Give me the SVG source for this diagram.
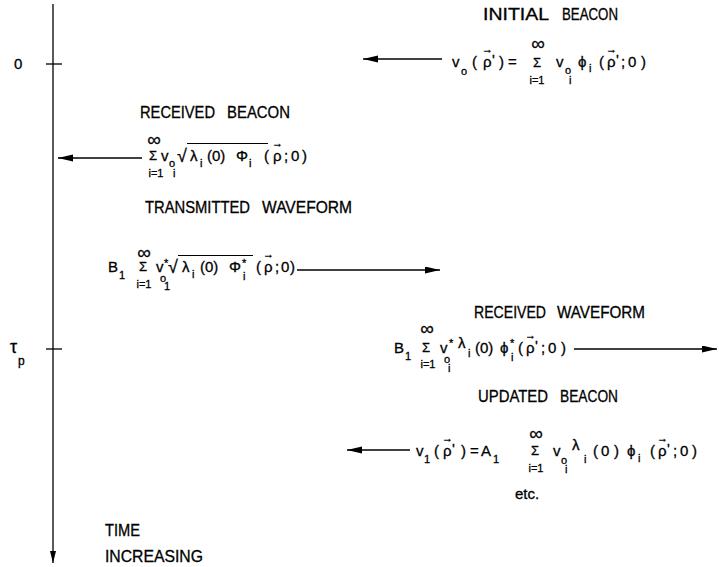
<svg xmlns="http://www.w3.org/2000/svg" width="719" height="567" viewBox="0 0 719 567">
<style>
text{font-family:"Liberation Sans","DejaVu Sans",sans-serif;fill:#000;stroke:#000;stroke-width:0.3}
.lab{font-size:16px}
.m{font-size:15px}
.s{font-size:11px}
.sg{font-size:13px;text-anchor:middle}
.inf{font-size:19px;text-anchor:middle}
.lim{font-size:11px;text-anchor:middle}
.vec{font-size:11px}
.ln{stroke:#000;stroke-width:1.3;fill:none}
.ov{stroke:#000;stroke-width:1.1;fill:none}
</style>
<defs>
<marker id="ah" markerUnits="userSpaceOnUse" markerWidth="16" markerHeight="8" refX="15" refY="3.5" orient="auto">
<path d="M0,0 L15,3.5 L0,7 Z" fill="#000"/>
</marker>
<marker id="ahv" markerUnits="userSpaceOnUse" markerWidth="13" markerHeight="8" refX="12" refY="3" orient="auto">
<path d="M0,0 L12,3 L0,6 Z" fill="#000"/>
</marker>
</defs>

<g id="axis">
<line class="ln" x1="53" y1="4" x2="53" y2="563" marker-end="url(#ahv)"/>
<line class="ln" x1="46" y1="64" x2="62" y2="64"/>
<line class="ln" x1="46" y1="349" x2="62" y2="349"/>
<text class="m" x="14" y="69">0</text>
<text style="font-size:18px" x="10" y="353">τ</text>
<text class="s" style="font-size:12px" x="18" y="365">p</text>
<text class="lab" x="105" y="536" textLength="35" lengthAdjust="spacingAndGlyphs">TIME</text>
<text class="lab" x="105" y="562" textLength="98" lengthAdjust="spacingAndGlyphs">INCREASING</text>
</g>

<g id="connectors">
<line class="ln" x1="442" y1="59" x2="363" y2="59" marker-end="url(#ah)"/>
<line class="ln" x1="142" y1="158" x2="58" y2="158" marker-end="url(#ah)"/>
<line class="ln" x1="297" y1="270" x2="440" y2="270" marker-end="url(#ah)"/>
<line class="ln" x1="574" y1="349" x2="717" y2="349" marker-end="url(#ah)"/>
<line class="ln" x1="410" y1="450" x2="347" y2="450" marker-end="url(#ah)"/>
</g>

<g id="initial-beacon">
<text class="lab" x="483" y="20" textLength="66" lengthAdjust="spacingAndGlyphs">INITIAL</text>
<text class="lab" x="562" y="20" textLength="56" lengthAdjust="spacingAndGlyphs">BEACON</text>
<text class="m" x="452" y="67">v</text>
<text class="s" x="461" y="75">o</text>
<text class="m" x="472" y="67">(</text>
<text class="m" x="483" y="67">ρ</text>
<text class="vec" x="482" y="53">→</text>
<text class="m" x="492" y="65">'</text>
<text class="m" x="499" y="67">)</text>
<text class="m" x="508" y="67">=</text>
<text class="inf" x="538" y="50">∞</text>
<text class="sg" x="537" y="67">Σ</text>
<text class="lim" x="537" y="84">i=1</text>
<text class="m" x="556" y="67">v</text>
<text class="s" x="565" y="74">o</text>
<text class="s" x="569" y="84">i</text>
<text class="m" x="578" y="67">ϕ</text>
<text class="s" x="589" y="72">i</text>
<text class="m" x="599" y="67">(</text>
<text class="m" x="607" y="67">ρ</text>
<text class="vec" x="606" y="53">→</text>
<text class="m" x="616" y="65">'</text>
<text class="m" x="621" y="67">;</text>
<text class="m" x="628" y="67">0</text>
<text class="m" x="641" y="67">)</text>
</g>

<g id="received-beacon">
<text class="lab" x="140" y="118" textLength="75" lengthAdjust="spacingAndGlyphs">RECEIVED</text>
<text class="lab" x="227" y="118" textLength="63" lengthAdjust="spacingAndGlyphs">BEACON</text>
<text class="inf" x="154" y="146">∞</text>
<text class="sg" x="153" y="160">Σ</text>
<text class="lim" x="156" y="177">i=1</text>
<text class="m" x="161" y="161">v</text>
<text class="s" x="169" y="167">o</text>
<text class="s" x="173" y="177">i</text>
<text class="m" style="font-size:18px" x="177" y="162">√</text>
<line class="ov" x1="187" y1="143.5" x2="268" y2="143.5"/>
<text class="m" x="190" y="161">λ</text>
<text class="s" x="200" y="167">i</text>
<text class="m" x="207" y="161">(0)</text>
<text class="m" x="236" y="161">Φ</text>
<text class="s" x="249" y="167">i</text>
<text class="m" x="264" y="161">(</text>
<text class="m" x="273" y="161">ρ</text>
<text class="vec" x="272" y="147">→</text>
<text class="m" x="284" y="161">;</text>
<text class="m" x="291" y="161">0</text>
<text class="m" x="302" y="161">)</text>
</g>

<g id="transmitted-waveform">
<text class="lab" x="145" y="213" textLength="105" lengthAdjust="spacingAndGlyphs">TRANSMITTED</text>
<text class="lab" x="262" y="213" textLength="90" lengthAdjust="spacingAndGlyphs">WAVEFORM</text>
<text class="m" x="108" y="272">B</text>
<text class="s" x="119" y="279">1</text>
<text class="inf" x="144" y="259">∞</text>
<text class="sg" x="143" y="271">Σ</text>
<text class="lim" x="144" y="288">i=1</text>
<text class="m" x="156" y="272">v</text>
<text class="s" x="164" y="267">*</text>
<text class="s" x="160" y="282">o</text>
<text class="s" x="164" y="290">1</text>
<text class="m" style="font-size:18px" x="168" y="273">√</text>
<line class="ov" x1="178" y1="255.5" x2="253" y2="255.5"/>
<text class="m" x="182" y="272">λ</text>
<text class="s" x="192" y="278">i</text>
<text class="m" x="200" y="272">(0)</text>
<text class="m" x="229" y="272">Φ</text>
<text class="s" x="242" y="267">*</text>
<text class="s" x="243" y="280">i</text>
<text class="m" x="256" y="272">(</text>
<text class="m" x="264" y="272">ρ</text>
<text class="vec" x="263" y="258">→</text>
<text class="m" x="275" y="272">;</text>
<text class="m" x="281" y="272">0</text>
<text class="m" x="290" y="272">)</text>
</g>

<g id="received-waveform">
<text class="lab" x="474" y="318" textLength="72" lengthAdjust="spacingAndGlyphs">RECEIVED</text>
<text class="lab" x="557" y="318" textLength="88" lengthAdjust="spacingAndGlyphs">WAVEFORM</text>
<text class="m" x="394" y="353">B</text>
<text class="s" x="405" y="360">1</text>
<text class="inf" x="427" y="335">∞</text>
<text class="sg" x="426" y="352">Σ</text>
<text class="lim" x="428" y="368">i=1</text>
<text class="m" x="440" y="353">v</text>
<text class="s" x="449" y="347">*</text>
<text class="s" x="444" y="363">o</text>
<text class="s" x="448" y="372">i</text>
<text class="m" x="458" y="348">λ</text>
<text class="s" x="468" y="357">i</text>
<text class="m" x="475" y="353">(0)</text>
<text class="m" x="500" y="353">ϕ</text>
<text class="s" x="510" y="347">*</text>
<text class="s" x="511" y="361">i</text>
<text class="m" x="518" y="353">(</text>
<text class="m" x="526" y="353">ρ</text>
<text class="vec" x="525" y="339">→</text>
<text class="m" x="535" y="351">'</text>
<text class="m" x="541" y="353">;</text>
<text class="m" x="548" y="353">0</text>
<text class="m" x="561" y="353">)</text>
</g>

<g id="updated-beacon">
<text class="lab" x="478" y="402" textLength="70" lengthAdjust="spacingAndGlyphs">UPDATED</text>
<text class="lab" x="560" y="402" textLength="58" lengthAdjust="spacingAndGlyphs">BEACON</text>
<text class="m" x="416" y="456">v</text>
<text class="s" x="424" y="463">1</text>
<text class="m" x="434" y="456">(</text>
<text class="m" x="443" y="456">ρ</text>
<text class="vec" x="442" y="442">→</text>
<text class="m" x="452" y="454">'</text>
<text class="m" x="461" y="456">)</text>
<text class="m" x="470" y="456">=</text>
<text class="m" x="481" y="456">A</text>
<text class="s" x="493" y="463">1</text>
<text class="inf" x="536" y="440">∞</text>
<text class="sg" x="535" y="455">Σ</text>
<text class="lim" x="536" y="472">i=1</text>
<text class="m" x="553" y="456">v</text>
<text class="s" x="561" y="464">o</text>
<text class="s" x="565" y="473">i</text>
<text class="m" x="572" y="450">λ</text>
<text class="s" x="584" y="463">i</text>
<text class="m" x="593" y="456">(</text>
<text class="m" x="601" y="456">0</text>
<text class="m" x="614" y="456">)</text>
<text class="m" x="627" y="456">ϕ</text>
<text class="s" x="638" y="462">i</text>
<text class="m" x="650" y="456">(</text>
<text class="m" x="658" y="456">ρ</text>
<text class="vec" x="657" y="442">→</text>
<text class="m" x="667" y="454">'</text>
<text class="m" x="673" y="456">;</text>
<text class="m" x="680" y="456">0</text>
<text class="m" x="692" y="456">)</text>
</g>

<g id="etc">
<text class="m" x="515" y="499">etc.</text>
</g>
</svg>
